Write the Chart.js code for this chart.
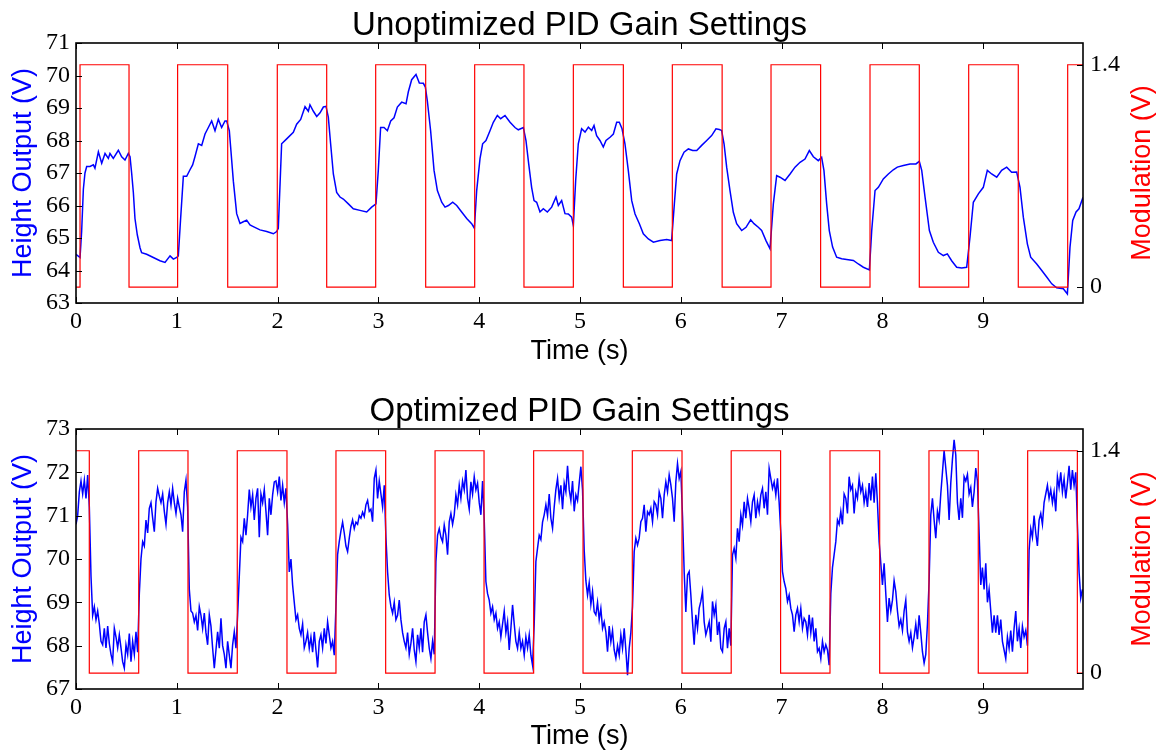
<!DOCTYPE html>
<html>
<head>
<meta charset="utf-8">
<script src="https://cdn.jsdelivr.net/npm/chart.js@4"></script>
<style>
  html, body { margin: 0; padding: 0; background: #fff; }
  #wrap { position: relative; width: 1159px; height: 753px; }
  .box { position: absolute; left: 0; width: 1159px; }
  #topBox { top: 0; height: 376px; }
  #bottomBox { top: 376px; height: 377px; }
</style>
</head>
<body>
<div id="wrap">
  <div class="box" id="topBox"><canvas id="unoptChart"></canvas></div>
  <div class="box" id="bottomBox"><canvas id="optChart"></canvas></div>
</div>
<script>
// ---- data ----

// unoptimized run: time (s) / height output (V)
const unoptTime = [
  0, 0.04, 0.056, 0.073, 0.089, 0.106, 0.139, 0.172, 0.188, 0.222, 0.255, 0.288, 0.321, 0.337, 0.37, 0.42, 0.453, 0.486, 0.519, 0.536,
  0.552, 0.569, 0.585, 0.608, 0.635, 0.651, 0.701, 0.767, 0.833, 0.883, 0.933, 0.966, 0.999, 1.015, 1.038, 1.065, 1.098, 1.131, 1.157, 1.18,
  1.214, 1.247, 1.28, 1.313, 1.346, 1.379, 1.412, 1.445, 1.478, 1.495, 1.521, 1.534, 1.561, 1.594, 1.627, 1.66, 1.693, 1.726, 1.759, 1.825,
  1.892, 1.958, 1.991, 2.007, 2.04, 2.09, 2.156, 2.189, 2.229, 2.272, 2.305, 2.321, 2.355, 2.388, 2.421, 2.454, 2.48, 2.503, 2.526, 2.553,
  2.586, 2.619, 2.652, 2.702, 2.751, 2.817, 2.884, 2.933, 2.976, 2.999, 3.022, 3.056, 3.089, 3.122, 3.155, 3.188, 3.231, 3.274, 3.297, 3.33,
  3.373, 3.406, 3.446, 3.466, 3.485, 3.518, 3.552, 3.585, 3.628, 3.661, 3.694, 3.737, 3.777, 3.826, 3.876, 3.925, 3.952, 3.975, 4.008, 4.034,
  4.067, 4.107, 4.14, 4.18, 4.213, 4.256, 4.306, 4.355, 4.388, 4.438, 4.464, 4.491, 4.52, 4.544, 4.57, 4.603, 4.636, 4.676, 4.719, 4.762,
  4.785, 4.818, 4.851, 4.884, 4.917, 4.934, 4.957, 4.983, 5.016, 5.05, 5.083, 5.116, 5.139, 5.165, 5.198, 5.231, 5.258, 5.298, 5.331, 5.364,
  5.39, 5.417, 5.446, 5.479, 5.513, 5.546, 5.589, 5.628, 5.678, 5.728, 5.794, 5.86, 5.909, 5.936, 5.959, 5.992, 6.032, 6.075, 6.118, 6.158,
  6.207, 6.257, 6.306, 6.349, 6.382, 6.405, 6.429, 6.455, 6.488, 6.521, 6.554, 6.604, 6.647, 6.693, 6.726, 6.769, 6.802, 6.845, 6.885, 6.918,
  6.951, 6.984, 7.034, 7.084, 7.133, 7.183, 7.232, 7.275, 7.315, 7.364, 7.397, 7.42, 7.447, 7.473, 7.506, 7.546, 7.596, 7.662, 7.712, 7.761,
  7.811, 7.871, 7.894, 7.927, 7.96, 8.009, 8.059, 8.108, 8.148, 8.208, 8.274, 8.333, 8.366, 8.39, 8.423, 8.466, 8.505, 8.555, 8.605, 8.644,
  8.687, 8.737, 8.786, 8.836, 8.869, 8.902, 8.952, 9.001, 9.041, 9.084, 9.134, 9.183, 9.233, 9.282, 9.332, 9.365, 9.398, 9.438, 9.471, 9.531,
  9.581, 9.63, 9.68, 9.729, 9.795, 9.835, 9.861, 9.888, 9.921, 9.95, 9.99
]
const unoptHeight = [
  64.5, 64.4, 65.2, 66.5, 67.0, 67.2, 67.2, 67.25, 67.15, 67.65, 67.3, 67.6, 67.45, 67.6, 67.45, 67.7, 67.5, 67.4, 67.6, 67.5,
  67.0, 66.4, 65.6, 65.1, 64.7, 64.55, 64.5, 64.4, 64.3, 64.25, 64.45, 64.35, 64.4, 64.45, 65.6, 66.9, 66.9, 67.1, 67.25, 67.5,
  67.9, 67.85, 68.2, 68.4, 68.6, 68.3, 68.65, 68.4, 68.6, 68.6, 68.3, 67.8, 66.75, 65.75, 65.45, 65.5, 65.55, 65.4, 65.35, 65.25,
  65.2, 65.13, 65.2, 65.3, 67.9, 68.05, 68.25, 68.5, 68.65, 69.04, 68.9, 69.1, 68.9, 68.74, 68.85, 69.03, 69.05, 68.72, 67.9, 66.97,
  66.4, 66.26, 66.2, 66.05, 65.9, 65.85, 65.8, 65.95, 66.05, 67.08, 68.4, 68.4, 68.3, 68.6, 68.7, 69.03, 69.18, 69.13, 69.5, 69.87,
  70.03, 69.77, 69.76, 69.64, 69.23, 68.3, 67.08, 66.46, 66.1, 65.95, 66.0, 66.1, 66.0, 65.8, 65.6, 65.44, 65.3, 66.46, 67.44, 67.9,
  68.0, 68.3, 68.56, 68.77, 68.67, 68.77, 68.56, 68.4, 68.33, 68.4, 68.0, 67.28, 66.56, 66.15, 66.1, 65.8, 65.9, 65.8, 65.95, 66.26,
  66.0, 66.15, 65.75, 65.74, 65.64, 65.38, 66.77, 67.9, 68.36, 68.26, 68.41, 68.31, 68.46, 68.15, 68.0, 67.8, 68.0, 68.1, 68.2, 68.56,
  68.56, 68.36, 67.9, 67.08, 66.15, 65.74, 65.44, 65.13, 64.97, 64.87, 64.92, 64.95, 64.92, 66.05, 66.97, 67.38, 67.64, 67.74, 67.69, 67.69,
  67.85, 68.0, 68.15, 68.36, 68.34, 68.31, 67.9, 67.18, 66.46, 65.79, 65.44, 65.23, 65.33, 65.56, 65.44, 65.33, 65.23, 64.92, 64.67, 66.05,
  66.92, 66.87, 66.77, 66.97, 67.18, 67.33, 67.43, 67.69, 67.5, 67.38, 67.48, 67.08, 66.05, 65.23, 64.72, 64.41, 64.36, 64.33, 64.31, 64.2,
  64.1, 64.02, 65.23, 66.46, 66.56, 66.82, 66.97, 67.1, 67.18, 67.23, 67.28, 67.28, 67.36, 67.08, 66.26, 65.23, 64.87, 64.56, 64.46, 64.51,
  64.3, 64.1, 64.08, 64.1, 65.03, 66.1, 66.36, 66.56, 67.08, 66.97, 66.87, 67.08, 67.18, 67.02, 67.03, 66.56, 65.64, 64.82, 64.41, 64.2,
  64.0, 63.8, 63.59, 63.47, 63.44, 63.28, 64.72, 65.54, 65.8, 65.9, 66.25
]
// modulation switching times (s); the unoptimized run starts low
const unoptModEdges = [0.04, 0.526, 1.008, 1.505, 1.997, 2.487, 2.973, 3.469, 3.955, 4.444, 4.934, 5.43, 5.916, 6.41, 6.895, 7.387, 7.877, 8.366, 8.856, 9.348, 9.838]

// optimized run: height output (V), one sample every OPT_STEP seconds from t = 0
const OPT_STEP = 0.01653
const optHeight = [
  70.8, 71.0, 71.55, 71.8, 71.5, 71.82, 71.4, 71.94, 71.2,
  69.6, 68.7, 68.9, 68.6, 68.8, 68.5, 68.1, 68.02, 68.4, 67.95, 68.45, 68.05, 67.8, 67.63, 68.4, 68.2, 67.95, 68.25, 67.95, 67.63, 67.48, 68.02, 67.8, 68.28, 67.63, 68.1, 67.8, 68.32, 67.85,
  69.2, 70.0, 70.4, 70.3, 70.9, 70.6, 71.17, 71.3, 70.95, 70.63, 71.32, 71.63, 71.45, 71.3, 71.5, 71.1, 70.8, 71.3, 71.55, 71.25, 71.63, 71.3, 71.05, 71.4, 71.2, 71.02, 70.63, 71.55, 71.82, 71.2,
  69.3, 68.8, 68.75, 68.55, 68.7, 68.35, 68.9, 68.7, 68.4, 68.75, 68.3, 68.02, 68.71, 68.45, 67.94, 67.48, 67.9, 68.32, 67.94, 68.63, 68.0, 67.8, 67.48, 68.1, 67.78, 67.48, 68.02, 68.32, 67.94,
  68.7, 69.6, 70.5, 70.4, 70.94, 70.55, 71.02, 71.6, 71.2, 71.48, 70.9, 71.4, 71.63, 70.5, 71.5, 71.3, 71.6, 71.1, 70.55, 71.4, 71.02, 71.48, 71.78, 71.8, 71.55, 71.9, 71.35, 71.7, 71.3, 71.63,
  70.8, 69.7, 70.0, 69.4, 69.0, 68.6, 68.71, 68.4, 68.25, 68.5, 67.95, 68.1, 68.3, 67.94, 68.2, 67.85, 68.32, 67.9, 67.5, 68.1, 68.25, 67.95, 68.4, 68.05, 68.55, 68.25, 67.95, 68.1, 67.78,
  68.9, 70.1, 70.4, 70.65, 70.85, 70.6, 70.3, 70.17, 70.48, 70.75, 70.9, 70.7, 70.85, 70.8, 71.0, 70.94, 71.08, 70.98, 71.25, 71.35, 71.1, 71.15, 70.86, 71.86, 72.05, 71.4, 71.8, 71.5, 71.2, 71.7,
  70.5, 69.7, 69.17, 68.9, 68.75, 69.0, 68.6, 68.7, 69.05, 68.6, 68.3, 68.1, 67.95, 68.3, 67.8, 68.05, 68.4, 67.9, 67.63, 68.25, 67.95, 68.4, 67.85, 68.55, 68.71, 68.3, 67.94, 67.7, 68.1, 67.8,
  69.94, 70.55, 70.7, 70.5, 70.4, 70.78, 70.55, 70.1, 70.86, 71.05, 70.8, 71.02, 71.48, 71.25, 71.7, 71.4, 71.8, 71.6, 72.05, 71.4, 71.15, 71.78, 71.5, 71.9, 71.6, 71.75, 71.3, 71.02, 71.8,
  70.9, 69.48, 69.2, 69.05, 68.75, 68.9, 68.6, 68.75, 68.4, 68.55, 68.2, 68.5, 68.8, 68.3, 68.55, 67.9, 68.4, 68.94, 68.5, 68.1, 67.94, 68.3, 67.94, 68.1, 67.78, 68.2, 67.95, 68.25, 67.78, 67.55,
  68.5, 69.94, 70.25, 70.55, 70.45, 70.85, 71.02, 71.25, 71.0, 71.5, 70.94, 70.71, 71.2, 71.6, 71.86, 71.4, 71.7, 71.15, 71.75, 71.55, 72.15, 71.6, 71.35, 71.8, 71.1, 71.48, 71.35, 71.75, 72.13, 71.6,
  70.2, 69.5, 69.17, 69.45, 68.95, 69.25, 68.78, 68.71, 69.0, 68.6, 68.86, 68.4, 68.55, 68.32, 67.86, 68.45, 68.09, 68.35, 67.9, 67.71, 68.0, 67.78, 68.25, 67.94, 68.4, 67.9, 67.32, 67.94, 68.3,
  68.9, 70.17, 70.48, 70.32, 70.48, 70.86, 70.94, 71.25, 70.63, 71.09, 71.02, 71.17, 70.86, 71.32, 71.25, 71.02, 71.55, 71.4, 70.94, 71.48, 71.78, 71.55, 71.94, 71.71, 71.4, 70.86, 71.78, 72.2, 71.86, 72.02,
  71.0, 69.7, 68.78, 69.63, 69.71, 69.17, 68.55, 68.02, 68.71, 68.4, 68.86, 69.02, 69.25, 68.55, 68.25, 68.4, 68.55, 68.09, 69.02, 68.71, 68.94, 68.25, 68.55, 67.94, 67.86, 68.4, 68.55, 67.94, 68.4,
  68.0, 70.09, 70.25, 70.02, 70.71, 70.4, 71.02, 70.78, 71.32, 70.94, 71.4, 71.17, 70.86, 71.32, 71.48, 70.94, 71.32, 71.09, 71.48, 71.63, 71.17, 71.55, 71.02, 72.09, 71.86, 71.63, 71.78, 71.48, 71.86, 71.3,
  70.6, 69.71, 69.48, 69.32, 69.02, 69.17, 68.86, 68.71, 68.32, 68.71, 68.86, 68.55, 68.86, 68.4, 68.63, 68.55, 68.25, 68.71, 68.3, 68.65, 68.1, 68.4, 67.86, 67.94, 67.7, 68.1, 67.86, 68.02, 67.9, 67.55,
  69.2, 69.8, 70.1, 70.4, 70.9, 70.8, 71.1, 70.8, 71.5, 71.4, 71.05, 71.9, 71.6, 71.7, 71.05, 71.55, 71.4, 71.86, 71.55, 71.7, 71.3, 71.55, 71.2, 71.75, 71.35, 71.9, 71.3, 71.98, 71.3,
  70.4, 69.9, 69.4, 69.9, 69.2, 68.55, 69.1, 68.8, 69.05, 69.5, 69.25, 68.8, 68.45, 68.6, 68.35, 68.8, 69.05, 68.32, 68.1, 68.3, 67.95, 68.2, 68.5, 68.15, 68.7, 68.3, 67.86, 67.6, 67.8, 68.5,
  69.5, 71.02, 71.4, 70.9, 70.48, 71.1, 70.9, 71.5, 72.0, 72.5, 72.1, 71.7, 70.9, 71.75, 72.3, 72.75, 72.4, 71.3, 70.9, 71.4, 70.95, 71.9, 71.8, 71.95, 71.5, 71.65, 71.2, 71.55, 72.1, 71.8,
  70.6, 69.4, 69.8, 69.3, 69.9, 69.0, 69.3, 68.8, 68.3, 68.7, 68.3, 68.7, 68.25, 68.6, 68.1, 67.9, 67.7, 68.2, 67.94, 68.35, 67.86, 68.4, 68.8, 68.1, 68.4, 67.95, 68.45, 68.2, 68.35,
  68.0, 70.2, 70.7, 70.5, 71.0, 70.6, 70.3, 70.9, 71.05, 70.8, 71.3, 71.5, 71.7, 71.4, 71.6, 71.3, 71.55, 71.1, 71.9, 71.65, 72.0, 71.55, 71.85, 71.4, 71.75, 72.15, 71.6, 72.05, 71.7, 72.0,
  70.8, 69.7, 69.1, 69.3
]
// modulation switching times (s); the optimized run starts high
const optModEdges = [0.132, 0.622, 1.111, 1.6, 2.093, 2.579, 3.072, 3.562, 4.048, 4.54, 5.03, 5.519, 6.012, 6.5, 6.99, 7.48, 7.973, 8.462, 8.951, 9.441, 9.934]

const MOD_LOW = 0
const MOD_HIGH = 1.4
const modTicks = [0, 1.4]
const T_END = 9.99

// ---- drawing ----
const BLUE = '#0000ff'
const RED = '#ff0000'
const SANS = '"Liberation Sans", Arial, sans-serif'
const SERIF = '"Liberation Serif", "Times New Roman", serif'
const TICK_LEN = 6

Chart.defaults.font.family = SANS

const toPoints = (xs, ys) => ys.map((y, i) => ({ x: xs[i], y }))

const modSteps = (edges, startHigh) => {
  let level = startHigh ? MOD_HIGH : MOD_LOW
  const pts = [{ x: 0, y: level }]
  edges.forEach(t => {
    level = level === MOD_HIGH ? MOD_LOW : MOD_HIGH
    pts.push({ x: t, y: level })
  })
  pts.push({ x: T_END, y: level })
  return pts
}

// matplotlib-style frame, inward ticks and the right-hand axis label
const framePlugin = {
  id: 'frame',
  afterDraw(chart) {
    const { ctx, chartArea: { left, right, top, bottom }, scales } = chart
    ctx.save()
    ctx.strokeStyle = '#000'
    ctx.lineWidth = 1
    ctx.beginPath()
    scales.x.ticks.forEach(t => {
      const px = Math.round(scales.x.getPixelForValue(t.value)) + 0.5
      ctx.moveTo(px, bottom); ctx.lineTo(px, bottom - TICK_LEN)
      ctx.moveTo(px, top); ctx.lineTo(px, top + TICK_LEN)
    })
    scales.y.ticks.forEach(t => {
      const py = Math.round(scales.y.getPixelForValue(t.value)) + 0.5
      ctx.moveTo(left, py); ctx.lineTo(left + TICK_LEN, py)
    })
    scales.yMod.ticks.forEach(t => {
      const py = Math.round(scales.yMod.getPixelForValue(t.value)) + 0.5
      ctx.moveTo(right, py); ctx.lineTo(right - TICK_LEN, py)
    })
    ctx.stroke()
    ctx.lineWidth = 1.6
    ctx.strokeRect(left, top, right - left, bottom - top)

    ctx.translate(right + 67, (top + bottom) / 2)
    ctx.rotate(-Math.PI / 2)
    ctx.fillStyle = RED
    ctx.font = '27px ' + SANS
    ctx.textAlign = 'center'
    ctx.textBaseline = 'alphabetic'
    ctx.fillText('Modulation (V)', 0, 0)
    ctx.restore()
  }
}

const tickFont = { family: SERIF, size: 24 }

const makeConfig = (c) => ({
  type: 'line',
  data: {
    datasets: [
      { label: 'Modulation', data: c.modPoints, yAxisID: 'yMod', borderColor: RED, borderWidth: 1.2, pointRadius: 0, stepped: true },
      { label: 'Height Output', data: c.heightPoints, yAxisID: 'y', borderColor: BLUE, borderWidth: 1.5, pointRadius: 0, tension: 0 }
    ]
  },
  options: {
    animation: false,
    responsive: true,
    maintainAspectRatio: false,
    layout: { padding: 0 },
    plugins: {
      legend: { display: false },
      tooltip: { enabled: false },
      title: {
        display: true, text: c.title, color: '#000',
        font: { family: SANS, size: 33, weight: 'normal', lineHeight: 1 },
        padding: c.titlePad
      }
    },
    scales: {
      x: {
        type: 'linear', min: 0, max: T_END,
        grid: { display: false, drawTicks: false }, border: { display: false },
        ticks: { stepSize: 1, includeBounds: false, padding: 4, color: '#000', font: tickFont, maxRotation: 0, autoSkip: false },
        title: { display: true, text: 'Time (s)', color: '#000', font: { family: SANS, size: 27 }, padding: { top: 0, bottom: c.xTitlePad } },
        afterFit: s => { s.height = c.xAxisHeight }
      },
      y: {
        position: 'left', min: c.yMin, max: c.yMax,
        grid: { display: false, drawTicks: false }, border: { display: false },
        ticks: { stepSize: 1, padding: 6, color: '#000', font: tickFont },
        title: { display: true, text: 'Height Output (V)', color: BLUE, font: { family: SANS, size: 27 }, padding: { top: 7.4, bottom: 0 } },
        afterFit: s => { s.width = 76 }
      },
      yMod: {
        position: 'right', min: -0.1, max: 1.537,
        grid: { display: false, drawTicks: false }, border: { display: false },
        afterBuildTicks: s => { s.ticks = modTicks.map(v => ({ value: v })) },
        ticks: { padding: 7, color: '#000', font: tickFont, callback: v => String(v) },
        afterFit: s => { s.width = 76 }
      }
    }
  },
  plugins: [framePlugin]
})

new Chart(document.getElementById('unoptChart'), makeConfig({
  title: 'Unoptimized PID Gain Settings',
  heightPoints: toPoints(unoptTime, unoptHeight),
  modPoints: modSteps(unoptModEdges, false),
  yMin: 63, yMax: 71,
  titlePad: { top: 9.1, bottom: 0.9 },
  xAxisHeight: 73, xTitlePad: 8.5
}))

new Chart(document.getElementById('optChart'), makeConfig({
  title: 'Optimized PID Gain Settings',
  heightPoints: toPoints(optHeight.map((_, i) => +(i * OPT_STEP).toFixed(4)), optHeight),
  modPoints: modSteps(optModEdges, true),
  yMin: 67, yMax: 73,
  titlePad: { top: 19.6, bottom: 0.4 },
  xAxisHeight: 64, xTitlePad: 0
}))
</script>
</body>
</html>
